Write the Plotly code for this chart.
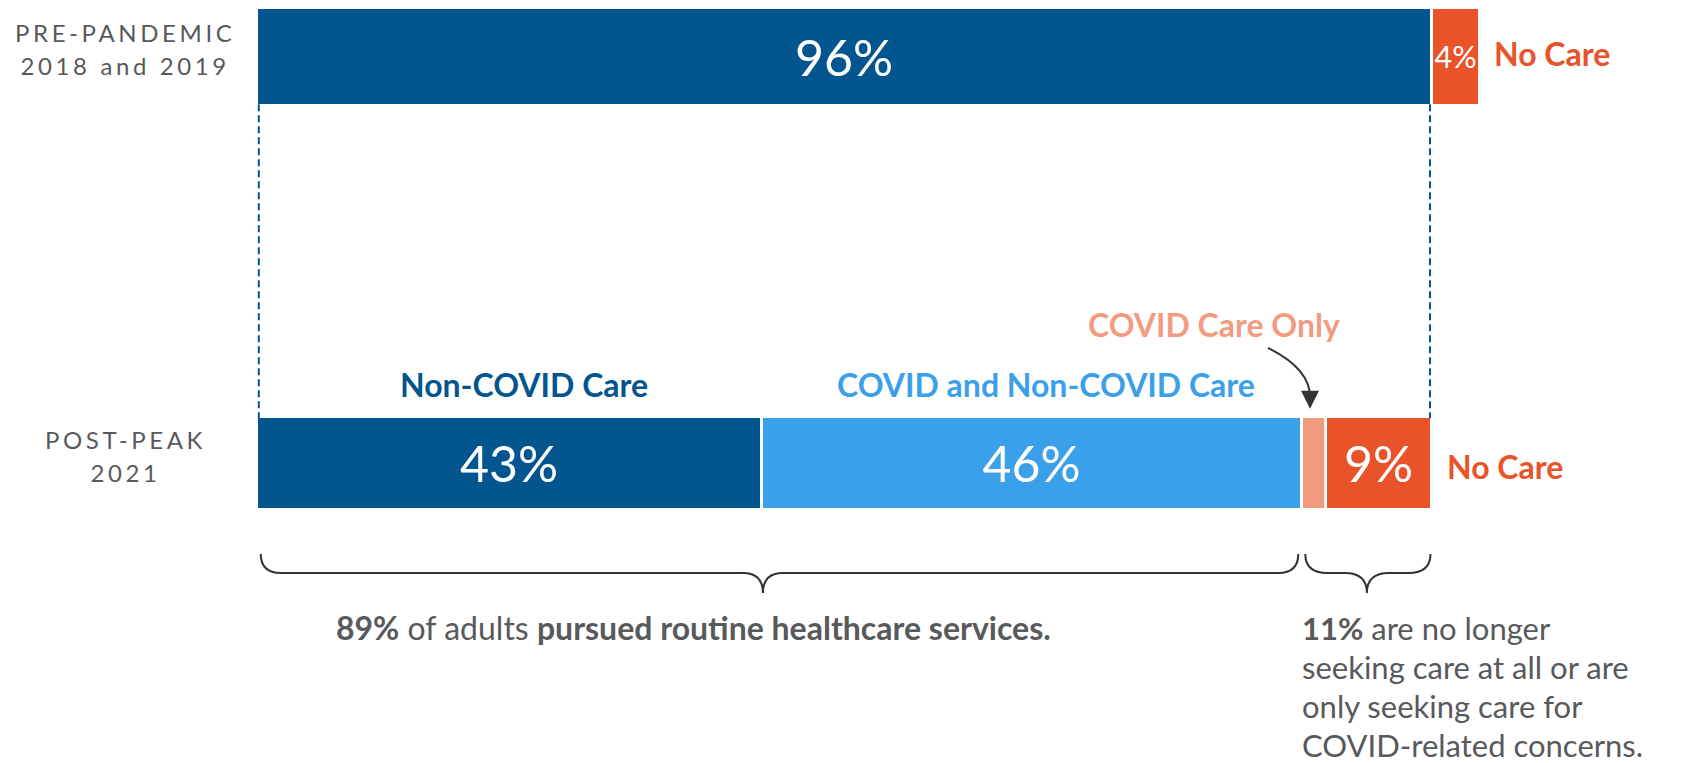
import plotly.graph_objects as go

# ---------------- data ----------------
ROWS = ["PRE-PANDEMIC<br>2018 and 2019", "POST-PEAK<br>2021"]
PRE_SEGMENTS = ["Care", "No Care"]
PRE_VALUES = [96, 4]
POST_SEGMENTS = ["Non-COVID Care", "COVID and Non-COVID Care", "COVID Care Only", "No Care"]
POST_VALUES = [43, 46, 2, 9]

# ---------------- style ----------------
DARK = "#02558F"
LIGHT = "#3BA0EA"
SALMON = "#F29A7E"
RED = "#E9532A"
GRAY = "#58595B"
INK = "#333333"
PRE_COLORS = [DARK, RED]
POST_COLORS = [DARK, LIGHT, SALMON, RED]
FONT = "Lato"
NUM_FONT = dict(family="Lato", size=50, color="white", weight=400)

W, H = 1690, 763
# pixel geometry of the plotting scale
X0_PX, X100_PX = 256.8, 1431.5          # where 0 and 100 (post-peak scale) land
ROW_PX = [56.65, 463.65]                 # centres of the two rows
PPU = (X100_PX - X0_PX) / 100.0
PPY = ROW_PX[1] - ROW_PX[0]
XR = [-X0_PX / PPU, (W - X0_PX) / PPU]
YR = [(H - ROW_PX[0]) / PPY, -ROW_PX[0] / PPY]
BAR_W = [0.2415, 0.23]
LINE_W = 3

post_total = sum(POST_VALUES)
# the pre-pandemic "care" bar is drawn to the same length as the full post-peak bar
scale2 = PRE_VALUES[0] / post_total
XR2 = [XR[0] * scale2, XR[1] * scale2]


def xd(v, dpx=0.0):
    """post-peak data value shifted by dpx pixels"""
    return v + dpx / PPU


def yd(row, dpx=0.0):
    return row + dpx / PPY


fig = go.Figure()

for name, val, col in zip(PRE_SEGMENTS, PRE_VALUES, PRE_COLORS):
    fig.add_trace(go.Bar(
        x=[val], y=[ROWS[0]], orientation="h", name=name,
        marker=dict(color=col, line=dict(color="white", width=LINE_W)),
        width=BAR_W[0], text=[f"{val}%"], textposition="inside",
        insidetextanchor="middle", textangle=0, textfont=NUM_FONT,
        xaxis="x2", yaxis="y", hoverinfo="skip", showlegend=False,
    ))

for name, val, col in zip(POST_SEGMENTS, POST_VALUES, POST_COLORS):
    show = val >= 5
    fig.add_trace(go.Bar(
        x=[val], y=[ROWS[1]], orientation="h", name=name,
        marker=dict(color=col, line=dict(color="white", width=LINE_W)),
        width=BAR_W[1], text=[f"{val}%" if show else ""],
        textposition="inside" if show else "none",
        insidetextanchor="middle", textangle=0, textfont=NUM_FONT,
        xaxis="x", yaxis="y", hoverinfo="skip", showlegend=False,
    ))

shapes = []
annotations = []

# dashed connector lines
top_bottom = yd(0, BAR_W[0] / 2 * PPY - LINE_W / 2)
bot_top = yd(1, -BAR_W[1] / 2 * PPY + LINE_W / 2)
for xv, dpx in [(0, 2), (post_total, -1.5)]:
    shapes.append(dict(type="line", xref="x", yref="y",
                       x0=xd(xv, dpx), x1=xd(xv, dpx), y0=top_bottom, y1=bot_top,
                       line=dict(color=DARK, width=2, dash="7px,4px")))

# braces
bar_bottom_px = ROW_PX[1] + BAR_W[1] / 2 * PPY - LINE_W / 2


def brace(xl, xr, xt, r=20):
    """xl, xr, xt in pixels"""
    y_end = bar_bottom_px + 45
    y_mid = bar_bottom_px + 64
    y_tip = bar_bottom_px + 84

    def P(px, py):
        return f"{(px - X0_PX) / PPU:.4f},{(py - ROW_PX[0]) / PPY:.5f}"
    return (f"M {P(xl, y_end)} Q {P(xl, y_mid)} {P(xl + r, y_mid)} "
            f"L {P(xt - r, y_mid)} Q {P(xt, y_mid)} {P(xt, y_tip)} "
            f"M {P(xt, y_tip)} Q {P(xt, y_mid)} {P(xt + r, y_mid)} "
            f"L {P(xr - r, y_mid)} Q {P(xr, y_mid)} {P(xr, y_end)}")


def px_of(v):
    return X0_PX + v * PPU


b1 = POST_VALUES[0] + POST_VALUES[1]
shapes.append(dict(type="path", xref="x", yref="y",
                   path=brace(px_of(0) + 4, px_of(b1) - 4, px_of(POST_VALUES[0]) + 1),
                   line=dict(color=INK, width=2), fillcolor="rgba(0,0,0,0)"))
shapes.append(dict(type="path", xref="x", yref="y",
                   path=brace(px_of(b1) + 3, px_of(post_total) - 1,
                              px_of((b1 + post_total) / 2), r=22),
                   line=dict(color=INK, width=2), fillcolor="rgba(0,0,0,0)"))

# curved arrow to "COVID Care Only"
covid_only_c = POST_VALUES[0] + POST_VALUES[1] + POST_VALUES[2] / 2
tip_x = px_of(covid_only_c) - 4
tip_y = ROW_PX[1] - BAR_W[1] / 2 * PPY - 8


def P2(dx, dy):
    return f"{(tip_x + dx - X0_PX) / PPU:.4f},{(tip_y + dy - ROW_PX[0]) / PPY:.5f}"


shapes.append(dict(type="path", xref="x", yref="y",
                   path=f"M {P2(-42, -61)} Q {P2(0, -40)} {P2(0, -12)}",
                   line=dict(color=INK, width=2), fillcolor="rgba(0,0,0,0)"))
annotations.append(dict(x=(tip_x - X0_PX) / PPU, y=(tip_y - ROW_PX[0]) / PPY,
                        xref="x", yref="y", text="", showarrow=True,
                        ax=0, ay=-14, arrowhead=2, arrowsize=1.8, arrowwidth=2,
                        arrowcolor=INK))

# segment labels
label_font = dict(family=FONT, size=32, weight=700)
seg_label_y = yd(1, -BAR_W[1] / 2 * PPY - 32)
annotations.append(dict(x=POST_VALUES[0] / 2, y=seg_label_y, xref="x", yref="y",
                        text=POST_SEGMENTS[0], showarrow=False, xshift=15,
                        font=dict(label_font, color=DARK)))
annotations.append(dict(x=POST_VALUES[0] + POST_VALUES[1] / 2, y=seg_label_y,
                        xref="x", yref="y", text=POST_SEGMENTS[1], showarrow=False,
                        xshift=14, font=dict(label_font, color=LIGHT)))
annotations.append(dict(x=covid_only_c, y=yd(1, -139), xref="x", yref="y",
                        text=POST_SEGMENTS[2], showarrow=False, xshift=-100,
                        font=dict(label_font, color="#F39B80")))
annotations.append(dict(x=post_total, y=yd(1, 3), xref="x", yref="y",
                        text=POST_SEGMENTS[3], showarrow=False, xanchor="left",
                        xshift=13, font=dict(label_font, color=RED)))
annotations.append(dict(x=sum(PRE_VALUES), y=yd(0, -3), xref="x2", yref="y",
                        text=PRE_SEGMENTS[1], showarrow=False, xanchor="left",
                        xshift=12, font=dict(label_font, color=RED)))

# row labels
for i, row in enumerate(ROWS):
    lines = row.split("<br>")
    txt = "<br>".join(
        f"<span style='font-size:24px;letter-spacing:3.6px'>{l}</span>" for l in lines)
    annotations.append(dict(x=125 / W, y=yd(i, -8), xref="paper", yref="y",
                            xanchor="center", yanchor="middle",
                            text=txt, showarrow=False, align="center",
                            font=dict(family=FONT, size=25, color=GRAY)))

# notes under the braces
pursued = POST_VALUES[0] + POST_VALUES[1]
not_pursued = POST_VALUES[2] + POST_VALUES[3]
annotations.append(dict(x=334 / W, y=yd(1, 627 - ROW_PX[1]), xref="paper", yref="y",
                        xanchor="left",
                        text=f"<b>{pursued}%</b> of adults <b>pursued routine healthcare services.</b>",
                        showarrow=False, font=dict(family=FONT, size=32, color=GRAY)))
note_lines = [f"<b>{not_pursued}%</b> are no longer", "seeking care at all or are",
              "only seeking care for", "COVID-related concerns."]
annotations.append(dict(x=pursued, y=yd(1, 686 - ROW_PX[1]), xref="x", yref="y",
                        xanchor="left", align="left", xshift=-2,
                        text="<br>".join(f"<span style='font-size:31px'>{l}</span>" for l in note_lines),
                        showarrow=False, font=dict(family=FONT, size=30, color=GRAY)))

fig.update_layout(
    width=W, height=H, autosize=False,
    margin=dict(l=0, r=0, t=0, b=0),
    paper_bgcolor="white", plot_bgcolor="white",
    barmode="stack", bargap=0,
    xaxis=dict(range=XR, visible=False, fixedrange=True),
    xaxis2=dict(range=XR2, visible=False, overlaying="x", fixedrange=True),
    yaxis=dict(range=YR, visible=False, type="category",
               categoryorder="array", categoryarray=ROWS, fixedrange=True),
    shapes=shapes, annotations=annotations,
    font=dict(family=FONT, color=GRAY),
    uniformtext=dict(mode=False),
)

fig.write_html("out.html", config={"displayModeBar": False},
               post_script="document.body.style.margin='0';document.body.style.overflow='hidden';")
